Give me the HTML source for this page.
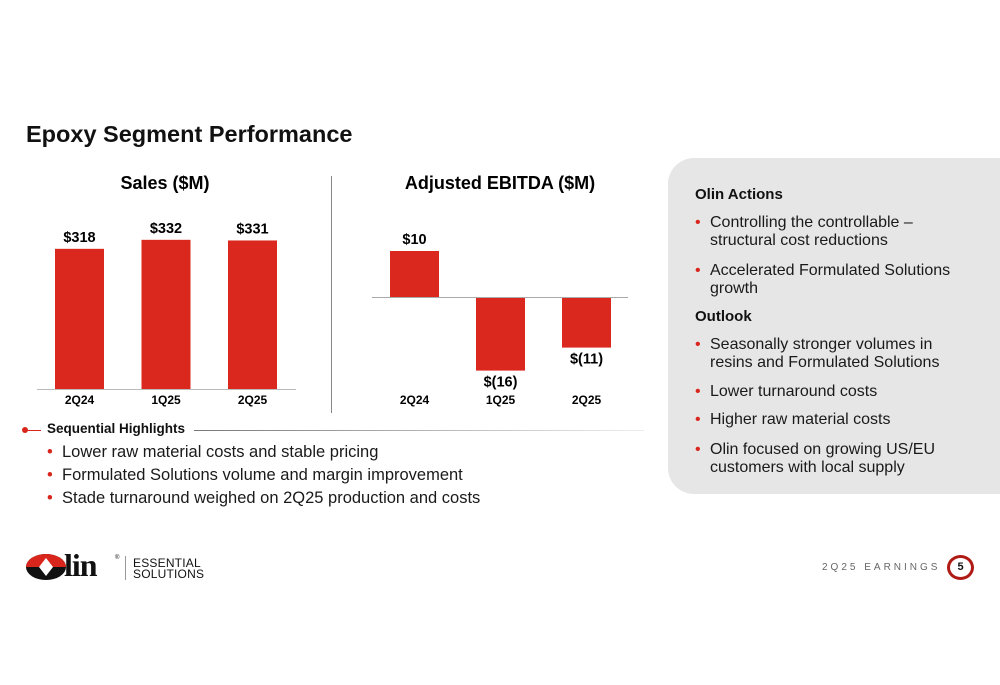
<!DOCTYPE html>
<html><head><meta charset="utf-8">
<style>
*{margin:0;padding:0;box-sizing:border-box}
body{width:1000px;height:685px;background:#fff;position:relative;overflow:hidden;font-family:"Liberation Sans",sans-serif;color:#111}
.a{position:absolute;white-space:nowrap}
.b{font-weight:bold}
.li{position:absolute;font-size:16.5px;line-height:18px;color:#1a1a1a}
.li:before{content:"•";color:#d9261c;position:absolute;left:-15px}
.rp{font-size:16px}
</style></head><body>
<div class="a b" style="left:26px;top:121px;font-size:23.5px">Epoxy Segment Performance</div>

<svg class="a" style="left:0;top:0" width="660" height="420">
<g id="sales"></g>
<g id="ebitda"></g>
<line x1="331.5" y1="176" x2="331.5" y2="413" stroke="#888" stroke-width="1"/>
</svg>

<div class="a" style="left:22px;top:420px;width:630px;height:20px">
<div style="position:absolute;left:0;top:7px;width:6px;height:6px;border-radius:50%;background:#d9261c"></div>
<div style="position:absolute;left:5px;top:9.5px;width:14px;height:1px;background:#d9261c"></div>
<div class="b" style="position:absolute;left:25px;top:1px;font-size:13.5px">Sequential Highlights</div>
<div style="position:absolute;left:172px;top:9.5px;width:450px;height:1.5px;background:linear-gradient(90deg,#777,#eee)"></div>
</div>
<div class="li" style="left:62px;top:443px">Lower raw material costs and stable pricing</div>
<div class="li" style="left:62px;top:466px">Formulated Solutions volume and margin improvement</div>
<div class="li" style="left:62px;top:489px">Stade turnaround weighed on 2Q25 production and costs</div>

<div class="a" style="left:668px;top:158px;width:340px;height:336px;background:#e6e6e6;border-radius:26px 0 0 26px"></div>
<div class="a b" style="left:695px;top:186px;font-size:15px">Olin Actions</div>
<div class="li rp" style="left:710px;top:214px;white-space:nowrap">Controlling the controllable –<br>structural cost reductions</div>
<div class="li rp" style="left:710px;top:262px;white-space:nowrap">Accelerated Formulated Solutions<br>growth</div>
<div class="a b" style="left:695px;top:308px;font-size:15px">Outlook</div>
<div class="li rp" style="left:710px;top:336px;white-space:nowrap">Seasonally stronger volumes in<br>resins and Formulated Solutions</div>
<div class="li rp" style="left:710px;top:383px;white-space:nowrap">Lower turnaround costs</div>
<div class="li rp" style="left:710px;top:411px;white-space:nowrap">Higher raw material costs</div>
<div class="li rp" style="left:710px;top:441px;white-space:nowrap">Olin focused on growing US/EU<br>customers with local supply</div>

<div class="a" style="left:26px;top:553px;height:30px;width:180px">
<svg width="40" height="28" style="position:absolute;left:0;top:0"><ellipse cx="20" cy="14" rx="20" ry="13" fill="#111"/><path d="M0 14 A20 13 0 0 1 40 14 Z" fill="#d9261c"/><polygon points="20,5 27,14 20,23 13,14" fill="#fff"/></svg>
<div class="b" style="position:absolute;left:38px;top:-6px;font-family:'Liberation Serif',serif;font-size:32px;letter-spacing:-1px">lin</div>
<div style="position:absolute;left:89px;top:2px;font-size:6px">®</div>
<div style="position:absolute;left:99px;top:3px;width:1px;height:24px;background:#999"></div>
<div style="position:absolute;left:107px;top:5px;font-size:12px;line-height:11px;letter-spacing:.2px">ESSENTIAL<br>SOLUTIONS</div>
</div>
<div class="a" style="left:822px;top:562px;font-size:10px;letter-spacing:3px;color:#666">2Q25 EARNINGS</div>
<div class="a b" style="left:947px;top:555px;width:27px;height:25px;border-radius:50%;border:3px solid #b01a14;background:#fff;font-size:11px;text-align:center;line-height:19px">5</div>

<script>
const NS="http://www.w3.org/2000/svg";
const salesCats=["2Q24","1Q25","2Q25"];
const salesVals=[318,332,331];
const salesLabels=["$318","$332","$331"];
const ebitdaCats=["2Q24","1Q25","2Q25"];
const ebitdaVals=[10,-16,-11];
const ebitdaLabels=["$10","$(16)","$(11)"];
function mk(p,t,a,txt){const e=document.createElementNS(NS,t);for(const k in a)e.setAttribute(k,a[k]);if(txt)e.textContent=txt;p.appendChild(e);return e;}
const sg=document.getElementById('sales');
const sBase=389,sMin=100,sScale=0.643;
const sy=v=>sBase-(v-sMin)*sScale;
const sx=i=>55+i*86.5;
let t=mk(sg,'text',{x:165,y:189,'text-anchor':'middle','font-size':18,'font-weight':'bold'},'Sales ($M)');


salesVals.forEach((v,i)=>{
 const r=mk(sg,'rect',{x:sx(i),y:sy(v),width:49,height:sBase-sy(v),fill:'#db281e'});
 
 
 const l=mk(sg,'text',{x:sx(i)+24.5,y:sy(v)-7,'text-anchor':'middle','font-size':14.5,'font-weight':'bold'},salesLabels[i]);
 
 
 const c=mk(sg,'text',{x:sx(i)+24.5,y:404,'text-anchor':'middle','font-size':12,'font-weight':'bold'},salesCats[i]);
 
 
});
const sa=mk(sg,'line',{x1:37,x2:296,y1:sBase+.5,y2:sBase+.5,stroke:'#bbb'});


const eg=document.getElementById('ebitda');
const eZero=297,eScale=4.6;
const ey=v=>eZero-v*eScale;
const ex=i=>390+i*86;
t=mk(eg,'text',{x:500,y:189,'text-anchor':'middle','font-size':18,'font-weight':'bold'},'Adjusted EBITDA ($M)');


ebitdaVals.forEach((v,i)=>{
 const top=Math.min(ey(v),eZero),h=Math.abs(ey(v)-eZero);
 const r=mk(eg,'rect',{x:ex(i),y:top,width:49,height:h,fill:'#db281e'});
 
 
 const ly=v>=0?ey(v)-7:ey(v)+16;
 const l=mk(eg,'text',{x:ex(i)+24.5,y:ly,'text-anchor':'middle','font-size':14.5,'font-weight':'bold'},ebitdaLabels[i]);
 
 
 const c=mk(eg,'text',{x:ex(i)+24.5,y:404,'text-anchor':'middle','font-size':12,'font-weight':'bold'},ebitdaCats[i]);
 
 
});
const ea=mk(eg,'line',{x1:372,x2:628,y1:eZero+.5,y2:eZero+.5,stroke:'#aaa'});


</script>
</body></html>
